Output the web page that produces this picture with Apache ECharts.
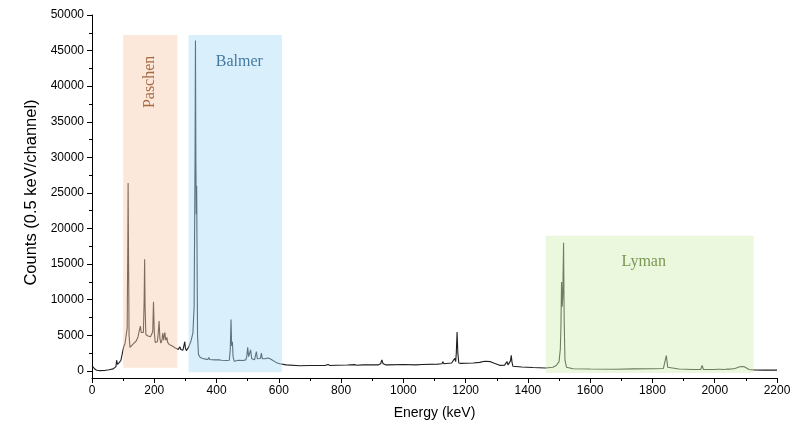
<!DOCTYPE html>
<html><head><meta charset="utf-8">
<script src="https://cdn.jsdelivr.net/npm/echarts@6/dist/echarts.min.js"></script>
<style>html,body{margin:0;padding:0;background:#fff}#c{width:797px;height:427px}</style>
</head><body><div id="c"></div>
<script>
// ---- data ----
const xTickValues = [0,200,400,600,800,1000,1200,1400,1600,1800,2000,2200];
const yTickValues = [0,5000,10000,15000,20000,25000,30000,35000,40000,45000,50000];
const yMinorValues = [2500,7500,12500,17500,22500,27500,32500,37500,42500,47500];

const regionNames  = ['Paschen', 'Balmer', 'Lyman'];
const regionFromKeV = [100, 310, 1457];
const regionToKeV   = [274, 610, 2125];
const regionBottom  = [450, -200, -300];
const regionTop     = [47200, 47200, 19000];
const labelKeV      = [185, 473, 1772];
const labelCounts   = [40600, 43400, 15300];

// spectrum [energy keV, counts]
const spectrumLow = [
 [0,750],[3,560],[8,300],[15,100],[25,30],[40,50],[55,150],[68,280],[74,420],[77,600],[79,1500],[80.5,1750],[82,900],
 [88,1200],[93,1500],[98,2600],[102,3400],[106,3850],[110,4100],[113,6000],[115,18000],[116,26400],[117.5,15000],[119,5000],
 [122,3300],[128,3500],[135,3900],[142,4200],[148,4800],[151,5500],[153,5300],[155.5,6300],[158,5400],[162,5200],[165,5400],
 [167.5,10000],[169,15700],[170.5,9000],[173,5100],[180,4900],[188,4800],[193,4600],[195,5500],[197.5,9700],[200,5500],
 [203,4000],[207,4000],[210,4100],[212.5,5200],[215.5,7000],[218,4600],[221,3900],[224,4200],[227.5,5300],[230,4300],
 [234,5400],[237,4300],[240.5,4700],[243,4000],[248,3700],[258,3500],[268,3200],[277,3000],[282,3400],[285,3000],
 [292,2900],[295,3100],[298,4100],[300,3200],[303,2850],[310,3300]
];
const spectrumBalmer = [
 [318,4200],[324,5300],[328,9000],[331,30000],[332.3,46400],[333.6,30000],[334.8,22000],[336.2,26000],[337.5,15000],
 [339,5000],[342,2300],[347,1900],[355,1750],[365,1650],[372,1600],[375,1900],[378,1600],[395,1550],[408,1550],[412,1800],
 [416,1500],[432,1450],[441,1500],[444,3000],[446.5,7200],[448.5,3500],[451,4100],[453,2000],[457,1350],[470,1500],
 [485,1450],[494,1550],[497,2000],[500,3300],[503,2000],[506,2100],[509.5,2950],[513,1700],[518,1600],[522,1550],
 [525.5,1800],[528,2700],[531,1700],[537,1600],[541,1750],[544,2500],[547,1700],[552,1650],[556,1700],[559,1600],
 [562,1950],[565,1800],[568,2000],[572,1700],[576,1800],[580,1500],[587,1300],[595,1100],[603,1000]
];
const spectrumMid = [
 [624,850],[667,720],[700,760],[750,780],[758,900],[765,760],[785,800],[820,820],[843,880],[850,800],[870,850],
 [875.5,1100],[880,850],[920,850],[927,1000],[931,1550],[935,1000],[943,850],[947,1100],[951,850],[1000,900],[1040,850],
 [1060,900],[1110,950],[1124,1000],[1127,1300],[1130,1000],[1155,1100],[1161,1300],[1165,1750],[1168,1300],[1170,2500],
 [1172.5,5450],[1175,2500],[1178,1100],[1185,1050],[1202,1080],[1224,1100],[1245,1200],[1262,1350],[1268,1450],
 [1280,1300],[1290,1100],[1309,780],[1325,800],[1330,900],[1333,1300],[1336,850],[1342,900],[1344,1400],[1346.5,2200],
 [1349,1200],[1352,650],[1380,550],[1416,470]
];
const spectrumHigh = [
 [1457,400],[1480,500],[1491,750],[1500,1300],[1504,3000],[1506,6000],[1508,12500],[1510,9000],[1512,10500],
 [1514.5,18000],[1516.5,7000],[1519,1500],[1524,500],[1545,300],[1600,260],[1684,230],[1737,280],[1800,300],
 [1835,330],[1840,600],[1844.5,2150],[1849,500],[1855,280],[1885,270],[1888,380],[1891,270],[1930,200],[1955,190],
 [1959.5,750],[1964,190],[2000,200],[2009,230],[2012.5,470],[2016,220],[2030,200],[2038,240],[2042,520],[2046,250],
 [2052,280],[2055,280],[2060,420],[2065,330],[2072,450],[2080,580],[2088,620],[2095,580],[2102,400],[2110,200],
 [2125,120],[2160,100],[2200,100]
];

// ---- styles ----
const regionFills  = ['rgba(248,204,173,0.45)', 'rgba(170,221,248,0.45)', 'rgba(210,239,182,0.45)'];
const regionColors = ['#8e4a1c', '#1b5a88', '#5c7d2c'];
const regionRotate = [90, 0, 0];

const spectrum = spectrumLow.concat(spectrumBalmer, spectrumMid, spectrumHigh);
const regionData = regionNames.map((n, i) => [regionFromKeV[i], regionToKeV[i], regionBottom[i], regionTop[i]]);
const labelData = regionNames.map((n, i) => ({
  name: n, value: [labelKeV[i], labelCounts[i]],
  label: { rotate: regionRotate[i], color: regionColors[i] }
}));

const sans = 'Liberation Sans, Arial, sans-serif';
const plain = v => String(v);
const chart = echarts.init(document.getElementById('c'), null, { renderer: 'canvas' });
chart.setOption({
  animation: false,
  backgroundColor: '#fff',
  grid: { left: 92, right: 20, top: 15, bottom: 49 },
  xAxis: {
    type: 'value', min: 0, max: 2200, interval: 200,
    name: 'Energy (keV)', nameLocation: 'middle', nameGap: 28,
    nameTextStyle: { fontFamily: sans, fontSize: 14, color: '#000' },
    axisLine: { onZero: false, lineStyle: { color: '#000', width: 1 } },
    axisTick: { length: 5, lineStyle: { color: '#000' } },
    minorTick: { show: true, splitNumber: 2, length: 3, lineStyle: { color: '#000' } },
    axisLabel: { fontFamily: sans, fontSize: 12, color: '#000', margin: 7, formatter: plain },
    splitLine: { show: false }
  },
  yAxis: [{
    type: 'value', min: -1000, max: 50000,
    name: 'Counts (0.5 keV/channel)', nameLocation: 'middle', nameGap: 33,
    nameTextStyle: { fontFamily: sans, fontSize: 16.5, color: '#000', padding: [0, 0, 0, 8] },
    axisLine: { show: true, lineStyle: { color: '#000', width: 1 } },
    axisTick: { show: true, length: 5, customValues: yTickValues, lineStyle: { color: '#000' } },
    axisLabel: { customValues: yTickValues, fontFamily: sans, fontSize: 12, color: '#000', margin: 8, formatter: plain },
    splitLine: { show: false }
  }, {
    type: 'value', min: -1000, max: 50000, position: 'left', offset: 0,
    axisLine: { show: false },
    axisTick: { show: true, length: 3, customValues: yMinorValues, lineStyle: { color: '#000' } },
    axisLabel: { show: false },
    splitLine: { show: false }
  }],
  series: [{
    type: 'line', data: spectrum, showSymbol: false, z: 2,
    lineStyle: { color: '#1e1e1e', width: 1.1 }
  }, {
    type: 'custom', z: 5, silent: true, data: regionData,
    renderItem: function (params, api) {
      const p0 = api.coord([api.value(0), api.value(3)]);
      const p1 = api.coord([api.value(1), api.value(2)]);
      return { type: 'rect', shape: { x: p0[0], y: p0[1], width: p1[0] - p0[0], height: p1[1] - p0[1] },
               style: { fill: regionFills[params.dataIndex] } };
    }
  }, {
    type: 'scatter', z: 6, symbolSize: 0, silent: true, data: labelData,
    label: { show: true, position: 'inside', formatter: '{b}',
             fontFamily: 'Liberation Serif, Times New Roman, serif', fontSize: 16 }
  }]
});
</script></body></html>
